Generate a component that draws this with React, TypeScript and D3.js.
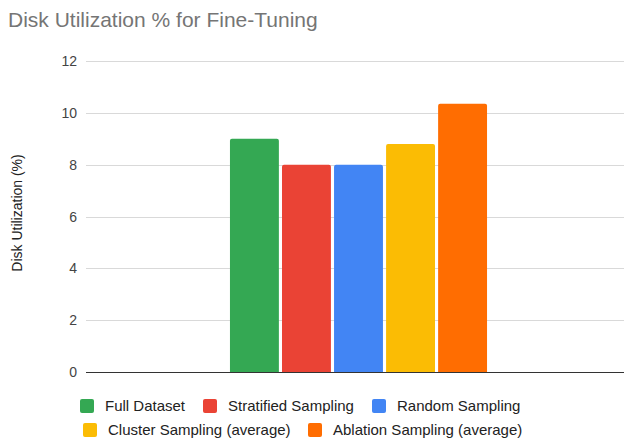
import React from "react";
import * as d3 from "d3";

const series = [
  "Full Dataset",
  "Stratified Sampling",
  "Random Sampling",
  "Cluster Sampling (average)",
  "Ablation Sampling (average)",
];
const values = [9.0, 8.0, 8.0, 8.8, 10.35];
const colors = ["#34a853", "#ea4335", "#4285f4", "#fbbc04", "#ff6d01"];
const yTicks = [0, 2, 4, 6, 8, 10, 12];

const W = 624;
const H = 440;
const left = 86;
const right = 631;
const top = 61;
const bottom = 372;

export default function App() {
  const y = d3.scaleLinear().domain([0, 12]).range([bottom, top]);
  const group = d3.scaleBand().domain(["g"]).range([left, right]).paddingInner(0).paddingOuter(0.56);
  const x = d3
    .scaleBand()
    .domain(series)
    .range([group("g")!, group("g")! + group.bandwidth()])
    .paddingInner(0.06)
    .paddingOuter(0);

  const legendRows = [
    [
      { i: 0, x: 80 },
      { i: 1, x: 203 },
      { i: 2, x: 372 },
    ],
    [
      { i: 3, x: 83 },
      { i: 4, x: 308 },
    ],
  ];
  const rowY = [406, 430];
  const font = "Arial, 'Liberation Sans', sans-serif";

  return (
    <svg
      width={W}
      height={H}
      style={{ position: "absolute", left: 0, top: 0, background: "#fff" }}
      fontFamily={font}
    >
      <rect width={W} height={H} fill="#fff" />
      <text x={8} y={27} fontSize={21} fill="#757575">
        Disk Utilization % for Fine-Tuning
      </text>
      {yTicks.map((t) => (
        <g key={t}>
          <line
            x1={left}
            x2={right}
            y1={Math.round(y(t)) + 0.5}
            y2={Math.round(y(t)) + 0.5}
            stroke={t === 0 ? "#333" : "#d9d9d9"}
            strokeWidth={1}
          />
          <text x={77} y={y(t) + 5} fontSize={14} textAnchor="end" fill="#444">
            {t}
          </text>
        </g>
      ))}
      <text
        transform={`translate(22, 213) rotate(-90)`}
        fontSize={14}
        textAnchor="middle"
        fill="#222"
      >
        Disk Utilization (%)
      </text>
      {series.map((s, i) => {
        const bx = x(s)!;
        const bw = x.bandwidth();
        const by = y(values[i]);
        const r = 2;
        const d = `M${bx},${bottom} L${bx},${by + r} Q${bx},${by} ${bx + r},${by} L${bx + bw - r},${by} Q${bx + bw},${by} ${bx + bw},${by + r} L${bx + bw},${bottom} Z`;
        return <path key={s} d={d} fill={colors[i]} />;
      })}
      <line x1={left} x2={right} y1={bottom + 0.5} y2={bottom + 0.5} stroke="#333" />
      {legendRows.map((row, ri) =>
        row.map(({ i, x: lx }) => (
          <g key={i}>
            <rect x={lx} y={rowY[ri] - 7} width={14} height={14} rx={2} fill={colors[i]} />
            <text x={lx + 25} y={rowY[ri] + 5} fontSize={15} fill="#222">
              {series[i]}
            </text>
          </g>
        ))
      )}
    </svg>
  );
}
